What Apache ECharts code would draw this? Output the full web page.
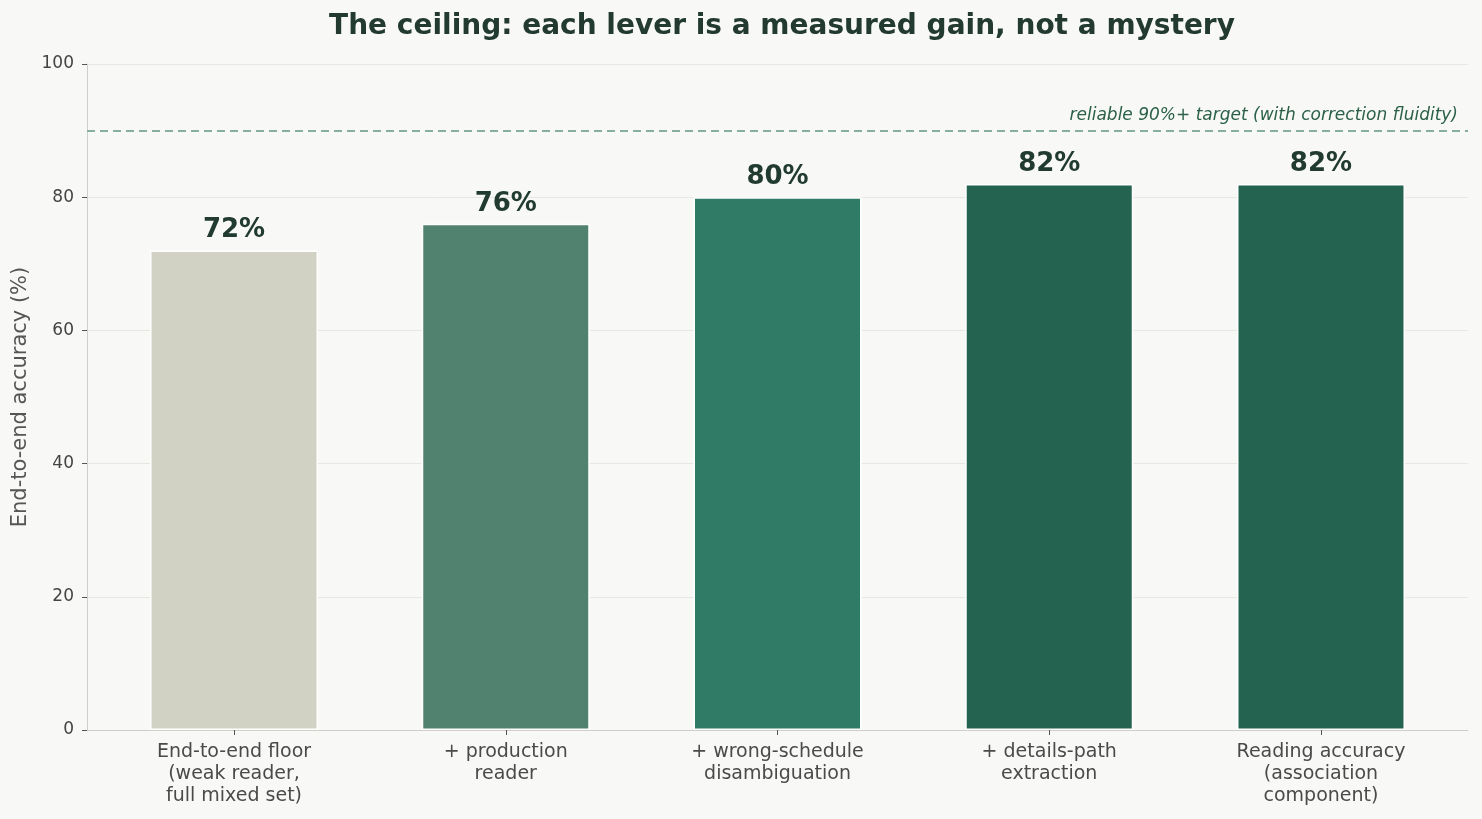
<!DOCTYPE html>
<html>
<head>
<meta charset="utf-8">
<script src="https://cdn.jsdelivr.net/npm/echarts@6/dist/echarts.min.js"></script>
<style>
html,body{margin:0;padding:0;background:#f8f8f6;}
#chart{width:1482px;height:819px;}
</style>
</head>
<body>
<div id="chart"></div>
<script>
const categories = [
  "End-to-end floor\n(weak reader,\nfull mixed set)",
  "+ production\nreader",
  "+ wrong-schedule\ndisambiguation",
  "+ details-path\nextraction",
  "Reading accuracy\n(association\ncomponent)"
];
const values = [72, 76, 80, 82, 82];
const barColors = ["#d2d2c4", "#518270", "#2f7b65", "#236350", "#236350"];
const yTicks = [0, 20, 40, 60, 80, 100];
const targetValue = 90;
const targetLabel = "reliable 90%+ target (with correction fluidity)";
const titleText = "The ceiling: each lever is a measured gain, not a mystery";
const yAxisName = "End-to-end accuracy (%)";

const FONT = "DejaVu Sans";
const chart = echarts.init(document.getElementById('chart'));
const positions = categories.map((c, i) => i);

chart.setOption({
  backgroundColor: "#f8f8f6",
  animation: false,
  textStyle: { fontFamily: FONT },
  title: {
    text: titleText,
    left: 777, top: 8, textAlign: 'center',
    textStyle: { fontFamily: FONT, fontSize: 28, fontWeight: 'bold', color: '#223a30' }
  },
  grid: { left: 87, right: 14, top: 64, bottom: 89 },
  xAxis: {
    type: 'value',
    min: -0.541, max: 4.541,
    axisLine: { show: true, onZero: false, lineStyle: { color: '#cfcfca', width: 1 } },
    axisTick: { show: true, customValues: positions, length: 5, lineStyle: { color: '#555' } },
    axisLabel: {
      show: true, customValues: positions,
      formatter: v => categories[Math.round(v)],
      fontFamily: FONT, fontSize: 19, color: '#4a4a4a', lineHeight: 22, margin: 11
    },
    splitLine: { show: false }
  },
  yAxis: {
    type: 'value', min: 0, max: 100, interval: 20,
    name: yAxisName, nameLocation: 'middle', nameGap: 52,
    nameTextStyle: { fontFamily: FONT, fontSize: 21, color: '#555555' },
    axisLine: { show: true, onZero: false, lineStyle: { color: '#cfcfca' } },
    axisTick: { show: true, length: 5, lineStyle: { color: '#555' } },
    axisLabel: { fontFamily: FONT, fontSize: 17, color: '#444444', margin: 13 },
    splitLine: { show: true, lineStyle: { color: '#e8e8e3', width: 1 } }
  },
  series: [{
    type: 'bar',
    barWidth: 168,
    data: values.map((v, i) => ({
      value: [i, v],
      itemStyle: { color: barColors[i], borderColor: '#ffffff', borderWidth: 1.5 }
    })),
    label: {
      show: true, position: 'top', distance: 7,
      formatter: p => p.value[1] + '%',
      fontFamily: FONT, fontSize: 26, fontWeight: 'bold', color: '#213b30'
    },
    markLine: {
      silent: true, symbol: 'none',
      lineStyle: { type: [8, 5], color: '#88ae9e', width: 2 },
      label: {
        show: true, position: 'insideEndTop', formatter: targetLabel,
        fontFamily: FONT, fontSize: 17, fontStyle: 'italic', color: '#2b6049',
        distance: [10, 7]
      },
      data: [{ yAxis: targetValue }]
    }
  }]
});
</script>
</body>
</html>
